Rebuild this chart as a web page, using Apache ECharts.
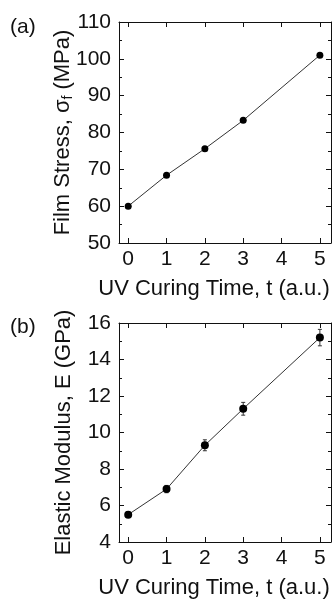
<!DOCTYPE html>
<html>
<head>
<meta charset="utf-8">
<script src="https://cdn.jsdelivr.net/npm/echarts@6/dist/echarts.min.js"></script>
<style>
  html, body { margin: 0; padding: 0; background: #fff; }
  #chart { width: 332px; height: 600px; }
</style>
</head>
<body>
<div id="chart"></div>
<script>
// UV curing time (a.u.) and tick labels shared by both panels
const tickValues = [0, 1, 2, 3, 4, 5];
const tickLabels = ['0', '1', '2', '3', '4', '5'];
const cureTime = [0, 1, 2, 3, 5];

// (a) film stress, MPa
const filmStress = [60.0, 68.4, 75.6, 83.3, 101.0];

// (b) elastic modulus, GPa, with its error
const elasticModulus = [5.5, 6.9, 9.3, 11.3, 15.2];
const modulusError = [0.15, 0.2, 0.3, 0.35, 0.45];

const FONT = '"Liberation Sans", Arial, sans-serif';
const INK = '#111';

const stressPoints = cureTime.map((t, i) => [t, filmStress[i]]);
const modulusPoints = cureTime.map((t, i) => [t, elasticModulus[i]]);
const modulusBars = cureTime.map((t, i) => [t, elasticModulus[i] - modulusError[i], elasticModulus[i] + modulusError[i]]);

const X_MIN = -0.24, X_MAX = 5.29;

function xAxisFor(gridIndex, top, showName) {
  return {
    type: 'value', gridIndex: gridIndex, position: top ? 'top' : 'bottom',
    min: X_MIN, max: X_MAX,
    axisLine: { show: true, onZero: false, lineStyle: { color: INK, width: 1 } },
    axisTick: { show: true, inside: true, length: 5, customValues: tickValues, lineStyle: { color: INK, width: 1 } },
    axisLabel: {
      show: !top, customValues: tickValues, margin: 6,
      formatter: v => tickLabels[tickValues.indexOf(v)],
      fontFamily: FONT, fontSize: 21, color: INK
    },
    splitLine: { show: false },
    name: showName ? 'UV Curing Time, t (a.u.)' : '',
    nameLocation: 'middle', nameGap: 35,
    nameTextStyle: { fontFamily: FONT, fontSize: 22, color: INK, padding: [0, 22, 0, 0] }
  };
}

function yAxisFor(gridIndex, right, min, max, interval, name, rich) {
  return {
    type: 'value', gridIndex: gridIndex, position: right ? 'right' : 'left',
    min: min, max: max, interval: interval,
    axisLine: { show: true, onZero: false, lineStyle: { color: INK, width: 1 } },
    axisTick: { show: true, inside: true, length: 5, lineStyle: { color: INK, width: 1 } },
    minorTick: { show: true, splitNumber: 2, length: 3, lineStyle: { color: INK, width: 1 } },
    axisLabel: { show: !right, margin: 8, fontFamily: FONT, fontSize: 21, color: INK },
    splitLine: { show: false },
    name: right ? '' : name,
    nameLocation: 'middle', nameGap: 44, nameMoveOverlap: false,
    nameTextStyle: { fontFamily: FONT, fontSize: 22, color: INK, rich: rich }
  };
}

const subRich = {
  s: { fontFamily: FONT, fontSize: 14, color: INK, padding: [11, 0, 0, 0] }
};

const chart = echarts.init(document.getElementById('chart'), null, { renderer: 'canvas' });

chart.setOption({
  animation: false,
  backgroundColor: '#fff',
  title: [
    { text: '(a)', left: 5, top: 12, textStyle: { fontFamily: FONT, fontSize: 21, fontWeight: 'normal', color: INK } },
    { text: '(b)', left: 5, top: 312, textStyle: { fontFamily: FONT, fontSize: 21, fontWeight: 'normal', color: INK } }
  ],
  grid: [
    { left: 119, top: 22, width: 212, height: 221 },
    { left: 119, top: 323, width: 212, height: 221 }
  ],
  xAxis: [
    xAxisFor(0, false, true),
    xAxisFor(0, true, false),
    xAxisFor(1, false, true),
    xAxisFor(1, true, false)
  ],
  yAxis: [
    yAxisFor(0, false, 50, 110, 10, 'Film Stress, σ{s|f} (MPa)', subRich),
    yAxisFor(0, true, 50, 110, 10, '', subRich),
    yAxisFor(1, false, 4, 16, 2, 'Elastic Modulus, E (GPa)', subRich),
    yAxisFor(1, true, 4, 16, 2, '', subRich)
  ],
  series: [
    {
      type: 'line', xAxisIndex: 0, yAxisIndex: 0, data: stressPoints,
      symbol: 'circle', symbolSize: 7, showSymbol: true,
      itemStyle: { color: '#000' },
      lineStyle: { color: '#333', width: 1 }
    },
    {
      type: 'custom', xAxisIndex: 2, yAxisIndex: 2, data: modulusBars,
      z: 1,
      renderItem: function (params, api) {
        const x = api.value(0);
        const lo = api.coord([x, api.value(1)]);
        const hi = api.coord([x, api.value(2)]);
        const cap = 2;
        const style = { stroke: '#333', lineWidth: 1 };
        return {
          type: 'group',
          children: [
            { type: 'line', shape: { x1: lo[0], y1: lo[1], x2: hi[0], y2: hi[1] }, style: style },
            { type: 'line', shape: { x1: lo[0] - cap, y1: lo[1], x2: lo[0] + cap, y2: lo[1] }, style: style },
            { type: 'line', shape: { x1: hi[0] - cap, y1: hi[1], x2: hi[0] + cap, y2: hi[1] }, style: style }
          ]
        };
      }
    },
    {
      type: 'line', xAxisIndex: 2, yAxisIndex: 2, data: modulusPoints,
      symbol: 'circle', symbolSize: 8, showSymbol: true, z: 3,
      itemStyle: { color: '#000' },
      lineStyle: { color: '#333', width: 1 }
    }
  ]
});
</script>
</body>
</html>
